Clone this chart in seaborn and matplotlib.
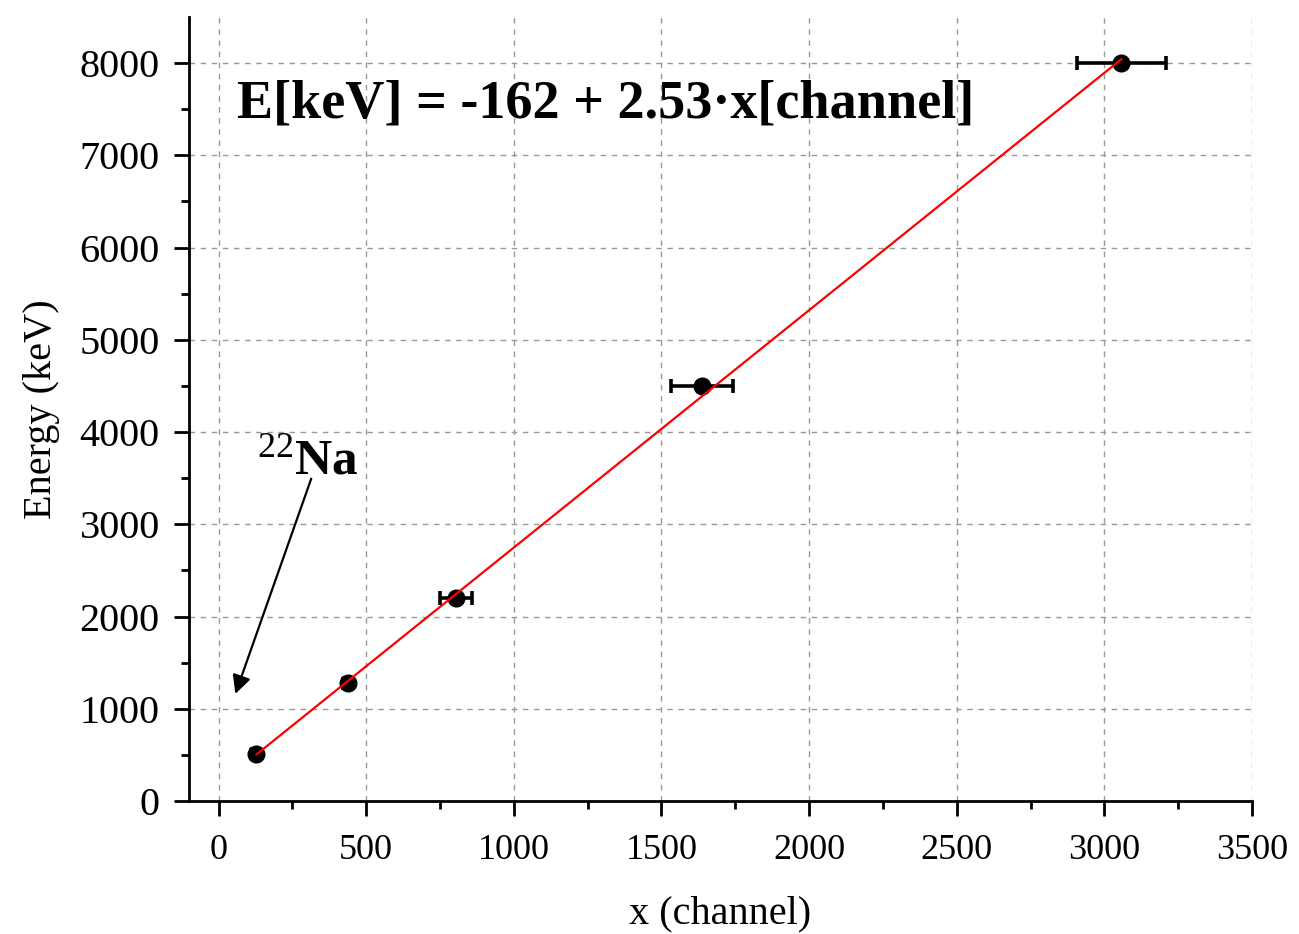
import numpy as np
import pandas as pd
import matplotlib
matplotlib.use("Agg")
import matplotlib.pyplot as plt
import seaborn as sns

# Calibration peaks: channel position vs. known gamma energy
channel = [128, 439, 805, 1638, 3058]
energy_kev = [511, 1275, 2200, 4500, 8000]
channel_err = [14, 14, 55, 106, 150]
energy_err = [45, 45, 0, 0, 0]

x_ticks = [0, 500, 1000, 1500, 2000, 2500, 3000, 3500]
y_ticks = [0, 1000, 2000, 3000, 4000, 5000, 6000, 7000, 8000]

fit_label = "E[keV] = -162 + 2.53\u00b7x[channel]"
source_label = r"$^{22}$Na"

df = pd.DataFrame({"channel": channel, "energy": energy_kev})

sns.set_theme(style="ticks")
plt.rcParams["font.family"] = ["Liberation Serif", "DejaVu Serif"]
plt.rcParams["mathtext.fontset"] = "custom"
plt.rcParams["mathtext.rm"] = "Liberation Serif"
plt.rcParams["mathtext.it"] = "Liberation Serif:italic"
plt.rcParams["mathtext.bf"] = "Liberation Serif:bold"
for key in ["text.color", "axes.labelcolor", "xtick.color", "ytick.color",
            "axes.edgecolor"]:
    plt.rcParams[key] = "black"

fig = plt.figure(figsize=(12.99, 9.34), dpi=100)
ax = fig.add_axes([0.1455, 0.1424, 0.8183, 0.8394])

# measured peaks with channel uncertainties
ax.errorbar(df["channel"], df["energy"], xerr=channel_err, yerr=energy_err,
            fmt="o", color="black", ms=12, elinewidth=2.6, capsize=5,
            capthick=2.6, zorder=3)

# linear calibration fit over the measured range
sns.regplot(data=df, x="channel", y="energy", ax=ax, ci=None, scatter=False,
            truncate=True, line_kws={"color": "#ff0000", "lw": 1.6, "zorder": 4})

ax.set_xlim(-100, 3500)
ax.set_ylim(0, 8500)
ax.set_xticks(x_ticks)
ax.set_yticks(y_ticks)
ax.set_xticks(np.arange(250, 3500, 500), minor=True)
ax.set_yticks(np.arange(500, 8500, 1000), minor=True)

ax.grid(True, which="major", color="#999999", linestyle=(0, (4, 4)), lw=1.0)
ax.set_axisbelow(True)

for side in ["top", "right"]:
    ax.spines[side].set_visible(False)
for side in ["left", "bottom"]:
    ax.spines[side].set_linewidth(2.0)
    ax.spines[side].set_color("black")

ax.tick_params(axis="both", which="major", direction="out", length=11,
               width=2.0, color="black")
ax.tick_params(axis="both", which="minor", direction="out", length=6,
               width=2.0, color="black")
ax.tick_params(axis="x", which="major", labelsize=26, pad=13)
ax.tick_params(axis="y", which="major", labelsize=29, pad=10)

ax.set_xlabel("x (channel)", fontsize=29, labelpad=20)
ax.set_ylabel("Energy (keV)", fontsize=29, labelpad=14)

ax.text(61, 7405, fit_label, fontsize=39, fontweight="bold", ha="left",
        va="baseline", zorder=5)

ax.text(301, 3550, source_label, fontsize=37, fontweight="bold", ha="center",
        va="baseline")
ax.annotate("", xy=(57, 1161), xytext=(314, 3495),
            arrowprops=dict(arrowstyle="-|>", color="black", lw=1.6,
                            mutation_scale=28, shrinkA=0, shrinkB=0))

fig.savefig("out.png", dpi=100)
